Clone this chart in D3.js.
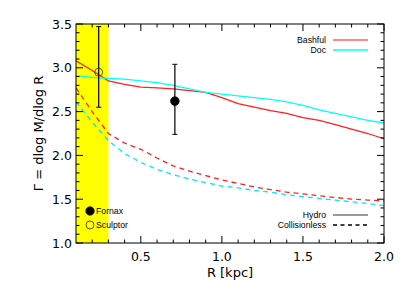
<!DOCTYPE html>
<html>
<head>
<meta charset="utf-8">
<script src="https://cdn.jsdelivr.net/npm/d3@7"></script>
<style>
  body { margin: 0; background: #fff; }
  text { font-family: "DejaVu Sans", sans-serif; }
  .small { font-family: "Liberation Sans", Arial, sans-serif; }
</style>
</head>
<body>
<script>
// radii of the profiles (kpc)
const radii = [0.1, 0.2, 0.3, 0.4, 0.5, 0.6, 0.7, 0.8, 0.9, 1.0, 1.1, 1.2, 1.3, 1.4, 1.5, 1.6, 1.7, 1.8, 1.9, 2.0];
// slopes
const bashfulHydro = [3.08, 2.97, 2.85, 2.81, 2.78, 2.77, 2.76, 2.74, 2.72, 2.66, 2.59, 2.55, 2.51, 2.48, 2.43, 2.40, 2.35, 2.30, 2.25, 2.19];
const docHydro     = [2.91, 2.89, 2.88, 2.87, 2.85, 2.83, 2.80, 2.76, 2.72, 2.70, 2.68, 2.66, 2.64, 2.61, 2.57, 2.52, 2.48, 2.44, 2.40, 2.37];
const bashfulColl  = [2.77, 2.50, 2.25, 2.14, 2.07, 1.97, 1.88, 1.82, 1.77, 1.72, 1.68, 1.64, 1.61, 1.58, 1.56, 1.54, 1.52, 1.50, 1.49, 1.48];
const docColl      = [2.61, 2.38, 2.17, 2.02, 1.92, 1.84, 1.78, 1.73, 1.69, 1.65, 1.63, 1.60, 1.58, 1.55, 1.53, 1.51, 1.49, 1.47, 1.45, 1.43];
// observed dwarfs: R, gamma, low, high
const galaxies = [
  {name: 'Fornax',   r: 0.71, g: 2.62, lo: 2.24, hi: 3.04, filled: true},
  {name: 'Sculptor', r: 0.24, g: 2.95, lo: 2.55, hi: 3.47, filled: false}
];
const band = [0.1, 0.3];
const xTicks = [0.5, 1.0, 1.5, 2.0];
const yTicks = [1.0, 1.5, 2.0, 2.5, 3.0, 3.5];

const width = 407, height = 291;
const margin = {top: 24, right: 23, bottom: 48, left: 76};

const svg = d3.select('body').append('svg').attr('width', width).attr('height', height);

const x = d3.scaleLinear().domain([0.1, 2.0]).range([margin.left, width - margin.right]);
const y = d3.scaleLinear().domain([1.0, 3.5]).range([height - margin.bottom, margin.top]);

// yellow band
svg.append('rect')
  .attr('x', x(band[0])).attr('y', y(3.5))
  .attr('width', x(band[1]) - x(band[0])).attr('height', y(1.0) - y(3.5))
  .attr('fill', '#ffff00');

// curves
const line = d3.line().x((d, i) => x(radii[i])).y(d => y(d));
const series = [
  {v: bashfulHydro, c: '#ff2020', dash: null},
  {v: docHydro, c: '#00ffff', dash: null},
  {v: bashfulColl, c: '#ff2020', dash: '5,4'},
  {v: docColl, c: '#00e8ff', dash: '5,4'}
];
series.forEach(s => {
  svg.append('path').datum(s.v)
    .attr('d', line).attr('fill', 'none')
    .attr('stroke', s.c).attr('stroke-width', 1.3)
    .attr('stroke-dasharray', s.dash);
});

// error bars and points
galaxies.forEach(g => {
  const gx = x(g.r);
  svg.append('line').attr('x1', gx).attr('x2', gx).attr('y1', y(g.lo)).attr('y2', y(g.hi))
    .attr('stroke', '#000').attr('stroke-width', 1.2);
  [g.lo, g.hi].forEach(v => {
    svg.append('line').attr('x1', gx - 2.5).attr('x2', gx + 2.5).attr('y1', y(v)).attr('y2', y(v))
      .attr('stroke', '#000').attr('stroke-width', 1);
  });
  svg.append('circle').attr('cx', gx).attr('cy', y(g.g)).attr('r', g.filled ? 4.3 : 4)
    .attr('fill', g.filled ? '#000' : 'none').attr('stroke', g.filled ? '#000' : '#333').attr('stroke-width', 0.8);
});

// axes with inward ticks on all four sides
const x0 = margin.left, x1 = width - margin.right, y0 = height - margin.bottom, y1 = margin.top;
const axes = svg.append('g').attr('stroke', '#000').attr('stroke-width', 1);
d3.range(2, 21).map(d => d / 10).forEach(v => {
  const major = xTicks.includes(v);
  const len = major ? 7 : 3.5;
  axes.append('line').attr('x1', x(v)).attr('x2', x(v)).attr('y1', y0).attr('y2', y0 - len);
  axes.append('line').attr('x1', x(v)).attr('x2', x(v)).attr('y1', y1).attr('y2', y1 + len);
});
d3.range(10, 36).map(d => d / 10).forEach(v => {
  const major = yTicks.includes(v);
  const len = major ? 7 : 3.5;
  axes.append('line').attr('x1', x0).attr('x2', x0 + len).attr('y1', y(v)).attr('y2', y(v));
  axes.append('line').attr('x1', x1).attr('x2', x1 - len).attr('y1', y(v)).attr('y2', y(v));
});
axes.append('rect').attr('x', x0).attr('y', y1).attr('width', x1 - x0).attr('height', y0 - y1)
  .attr('fill', 'none');

svg.selectAll('.xt').data(xTicks).enter().append('text')
  .attr('x', d => x(d)).attr('y', y0 + 18).attr('text-anchor', 'middle')
  .attr('font-size', 12.5).text(d => d.toFixed(1));
svg.selectAll('.yt').data(yTicks).enter().append('text')
  .attr('x', x0 - 4).attr('y', d => y(d) + 4.5).attr('text-anchor', 'end')
  .attr('font-size', 12.5).text(d => d.toFixed(1));

svg.append('text').attr('x', (x0 + x1) / 2).attr('y', 277).attr('text-anchor', 'middle')
  .attr('font-size', 13).text('R [kpc]');
svg.append('text').attr('transform', 'translate(43,' + ((y0 + y1) / 2) + ') rotate(-90)')
  .attr('text-anchor', 'middle').attr('font-size', 13).text('Γ = dlog M/dlog R');

// legends
const legend = [
  {t: 'Bashful', y: 40, c: '#ff6060', dash: null},
  {t: 'Doc', y: 50, c: '#00ffff', dash: null},
  {t: 'Hydro', y: 215, c: '#777', dash: null},
  {t: 'Collisionless', y: 225, c: '#000', dash: '4,3.5'}
];
legend.forEach(l => {
  svg.append('text').attr('class', 'small').attr('x', 326).attr('y', l.y + 3).attr('text-anchor', 'end')
    .attr('font-size', 8.7).text(l.t);
  svg.append('line').attr('x1', 333).attr('x2', 368).attr('y1', l.y).attr('y2', l.y)
    .attr('stroke', l.c).attr('stroke-width', 1.3).attr('stroke-dasharray', l.dash);
});
galaxies.forEach((g, i) => {
  const ly = 211 + i * 14;
  svg.append('circle').attr('cx', 90).attr('cy', ly).attr('r', g.filled ? 4.3 : 4)
    .attr('fill', g.filled ? '#000' : 'none').attr('stroke', '#333').attr('stroke-width', 0.8);
  svg.append('text').attr('class', 'small').attr('x', 96).attr('y', ly + 3).attr('font-size', 8.7).text(g.name);
});
</script>
</body>
</html>
